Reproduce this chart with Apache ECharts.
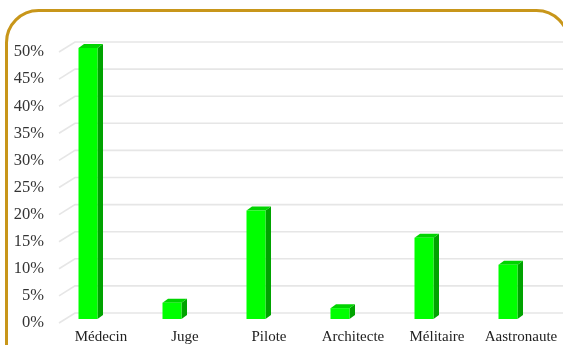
<!DOCTYPE html>
<html>
<head>
<meta charset="utf-8">
<script src="https://cdn.jsdelivr.net/npm/echarts@6/dist/echarts.min.js"></script>
<style>
html,body{margin:0;padding:0;background:#fff;}
#chart{width:563px;height:345px;}
</style>
</head>
<body>
<div id="chart"></div>
<script>
var categories = ['Médecin', 'Juge', 'Pilote', 'Architecte', 'Mélitaire', 'Aastronaute'];
var values = [50, 3, 20, 2, 15, 10];
var yTicks = [0, 5, 10, 15, 20, 25, 30, 35, 40, 45, 50];

var chart = echarts.init(document.getElementById('chart'));

function gridRender(params, api) {
  var cs = params.coordSys;
  var y = api.coord([0, api.value(1)])[1];
  return {
    type: 'polyline',
    shape: { points: [[cs.x, y], [cs.x + 16, y - 10], [cs.x + cs.width, y - 10]] },
    style: { stroke: '#e6e6e6', lineWidth: 1.6, fill: null }
  };
}

function barRender(params, api) {
  var c = api.coord([api.value(0), api.value(1)]);
  var b = api.coord([api.value(0), 0]);
  var x0 = c[0] - 22.5, x1 = c[0] - 3.5;
  var yt = c[1] - 4, yb = b[1] - 4;
  var dx = 5.5, dy = -4;
  return {
    type: 'group',
    children: [
      { type: 'polygon', shape: { points: [[x1, yt], [x1 + dx, yt + dy], [x1 + dx, yb + dy], [x1, yb]] },
        style: { fill: '#00a300' } },
      { type: 'polygon', shape: { points: [[x0, yt], [x0 + dx, yt + dy], [x1 + dx, yt + dy], [x1, yt]] },
        style: { fill: '#00d400' } },
      { type: 'rect', shape: { x: x0, y: yt, width: x1 - x0, height: yb - yt },
        style: { fill: '#00ff00' } }
    ]
  };
}

chart.setOption({
  animation: false,
  backgroundColor: '#fff',
  graphic: [{
    type: 'rect', left: 4, top: 8, z: 100,
    shape: { width: 562, height: 420, r: 32 },
    style: { fill: null, stroke: '#c8961a', lineWidth: 3 }
  }],
  grid: { left: 59, right: 0, top: 52, bottom: 22 },
  xAxis: {
    type: 'category',
    data: categories,
    axisLine: { show: false },
    axisTick: { show: false },
    axisLabel: { margin: 7, fontFamily: 'Liberation Serif', fontSize: 15, color: '#222', interval: 0 }
  },
  yAxis: {
    type: 'value', min: 0, max: 50, interval: 5,
    splitLine: { show: false },
    axisLine: { show: false },
    axisTick: { show: false },
    axisLabel: { margin: 15, formatter: '{value}%', fontFamily: 'Liberation Serif', fontSize: 16.5, color: '#333' }
  },
  series: [
    {
      type: 'custom', renderItem: gridRender, z: 1, silent: true,
      data: yTicks.map(function (v) { return [0, v]; })
    },
    {
      type: 'custom', renderItem: barRender, z: 2,
      data: values.map(function (v, i) { return [i, v]; })
    }
  ]
});
</script>
</body>
</html>
